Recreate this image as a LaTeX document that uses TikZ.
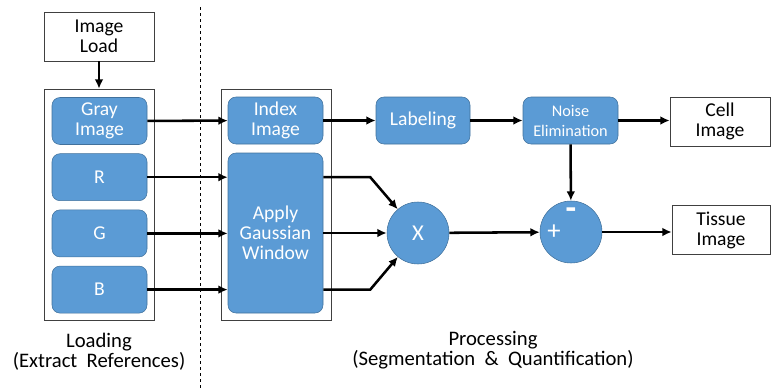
\documentclass[tikz,border=0pt]{standalone}
\usepackage{fontspec}
\setmainfont{Carlito}
\usepackage{tikz}
\usetikzlibrary{arrows.meta, positioning}

\definecolor{boxblue}{HTML}{5B9BD5}
\definecolor{boxedge}{HTML}{41719C}

\begin{document}
\begin{tikzpicture}[
    x=0.75pt, y=-0.75pt,
    node distance = 6.5pt,
    stage/.style = {rectangle, draw=boxedge, fill=boxblue, text=white, rounded corners=6pt, minimum width=71.25pt, minimum height=35.25pt, align=center, font=\fontsize{14.7}{15}\selectfont},
    io/.style = {rectangle, draw=black!75, fill=white, minimum height=36.75pt, align=center, font=\fontsize{14.7}{15}\selectfont},
    frame/.style = {rectangle, draw=black!75, minimum width=82.5pt, minimum height=173.25pt},
    op/.style = {circle, draw=boxedge, fill=boxblue, text=white, minimum size=46.5pt, inner sep=0pt, font=\fontsize{17}{17}\selectfont},
    sign/.style = {text=white, inner sep=0pt, font=\fontsize{20}{20}\selectfont},
    caption/.style = {align=center, font=\fontsize{15.5}{15}\selectfont},
    arrow/.style = {line width=1.9pt, -{Latex[length=7pt,width=6.5pt]}}
]
    \useasboundingbox (0,0) rectangle (771,389);

    % Separator between the two stages
    \draw [dash pattern=on 2.5pt off 2pt, line width=0.6pt] (200,7) -- (200,389);

    % Nodes
    \node (load) [io, minimum width=82.5pt] at (99,36.5) {Image\\Load};
    \node (loadframe) [frame] at (99,204.5) {};
    \node (gray) [stage] at (99.5,121) {Gray\\Image};
    \node (r) [stage, below=of gray] {R};
    \node (g) [stage, below=of r] {G};
    \node (b) [stage, below=of g] {B};

    \node (procframe) [frame] at (276,204.5) {};
    \node (index) [stage] at (275.5,120.5) {Index\\Image};
    \node (gauss) [stage, minimum height=120pt] at (275.5,233) {Apply\\Gaussian\\Window};

    \node (label) [stage, minimum width=70.5pt] at (423,120.5) {Labeling};
    \node (noise) [stage, font=\fontsize{12.2}{15}\selectfont] at (570.5,120.5) {Noise\\Elimination};
    \node (cell) [io, minimum width=75pt] at (720,121.5) {Cell\\Image};

    \node (times) [op] at (418,233) {X};
    \node (diff) [op] at (571,232) {};
    \node (plus) [sign] at ([xshift=-12.75pt]diff.center) {+};
    \node (minus) [sign, font=\bfseries\fontsize{26}{26}\selectfont] at ([yshift=14pt]diff.center) {-};
    \node (tissue) [io, minimum width=73.5pt] at (721,230) {Tissue\\Image};

    \node (loadcap) [caption] at (99,352) {Loading\\(Extract~ References)};
    \node (proccap) [caption] at (493,350) {Processing\\(Segmentation~ \&~ Quantification)};

    % Arrows
    \draw [arrow] (load) -- (loadframe);
    \draw [arrow] (gray) -- (index);
    \draw [arrow] (r.east) -- (gauss.west |- r.east);
    \draw [arrow] (g.east) -- (gauss.west |- g.east);
    \draw [arrow] (b.east) -- (gauss.west |- b.east);
    \draw [arrow] (index) -- (label);
    \draw [arrow] (label) -- (noise);
    \draw [arrow] (noise.east) -- (cell.west |- noise.east);
    \draw [arrow] (gauss.east |- r.east) -- ++(47,0) -- (times);
    \draw [arrow] (gauss.east |- times.west) -- (times.west);
    \draw [arrow] (gauss.east |- b.east) -- ++(47,0) -- (times);
    \draw [arrow] (times) -- (diff);
    \draw [arrow] (noise) -- (diff);
    \draw [arrow] (diff) -- (tissue.west |- diff.east);

\end{tikzpicture}
\end{document}
